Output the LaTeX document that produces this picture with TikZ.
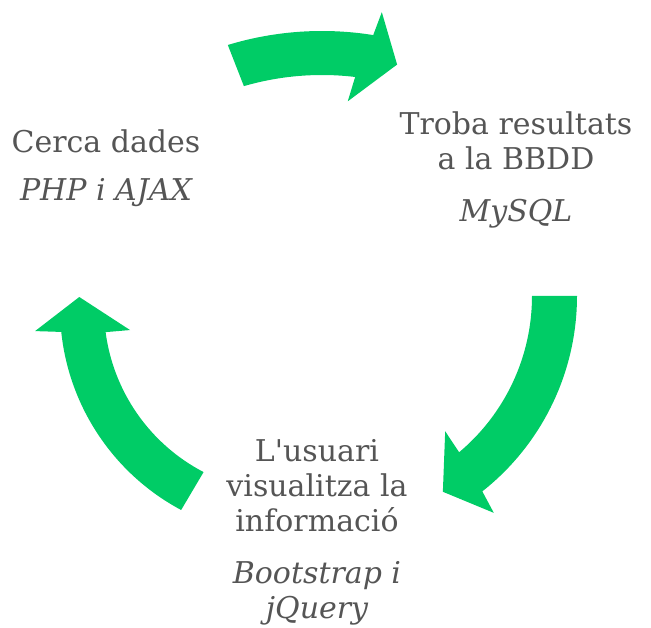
\documentclass[tikz,border=0pt]{standalone}
\usepackage{fontspec}
\newfontfamily\stepfont{DejaVu Serif}
\usepackage{tikz}
\usetikzlibrary{positioning}
\definecolor{cyclegreen}{RGB}{0,204,102}
\definecolor{stepgray}{RGB}{85,85,85}

\begin{document}
\begin{tikzpicture}[x=1pt, y=1pt,
    every node/.style={text=stepgray, align=center, inner sep=0pt,
        font=\stepfont\fontsize{30}{35}\selectfont},
    tech/.style={font=\stepfont\fontsize{30}{35}\selectfont\itshape},
    cyclearrow/.style={fill=cyclegreen, draw=none}
    ]
    \useasboundingbox (0,0) rectangle (651,628);

    % Steps of the cycle
    \node[anchor=base] (cerca) at (106,475) {Cerca dades};
    \node[tech, below=25 of cerca] (cercatech) {PHP i AJAX};

    \node[anchor=base] (troba) at (516,458) {Troba resultats\\a la BBDD};
    \node[tech, below=28 of troba] (trobatech) {MySQL};

    \node[anchor=base] (usuari) at (317,96) {L'usuari\\visualitza la\\informació};
    \node[tech, below=29 of usuari] (usuaritech) {Bootstrap i\\jQuery};

    % Top arrow
    \fill[cyclearrow, shift={(322,273)}]
        (106.9:324) arc[start angle=106.9, end angle=80.9, radius=324]
        -- (80.1:348) -- (75.5:300) -- (84.2:255) -- (83.2:280)
        arc[start angle=83.2, end angle=106.2, radius=280] -- cycle;
    % Right arrow
    \fill[cyclearrow, shift={(328,332)}]
        (0:249) arc[start angle=0, end angle=-51.7, radius=249]
        -- (-52.6:273) -- (-59.6:227) -- (-49.1:179) -- (-50:204)
        arc[start angle=-50, end angle=0, radius=204] -- cycle;
    % Left arrow
    \fill[cyclearrow, shift={(289,320)}]
        (241.9:229) arc[start angle=241.9, end angle=186, radius=229]
        -- (185.2:255) -- (177:210) -- (187.9:160.5) -- (187.5:185)
        arc[start angle=187.5, end angle=242.5, radius=185] -- cycle;
\end{tikzpicture}
\end{document}
